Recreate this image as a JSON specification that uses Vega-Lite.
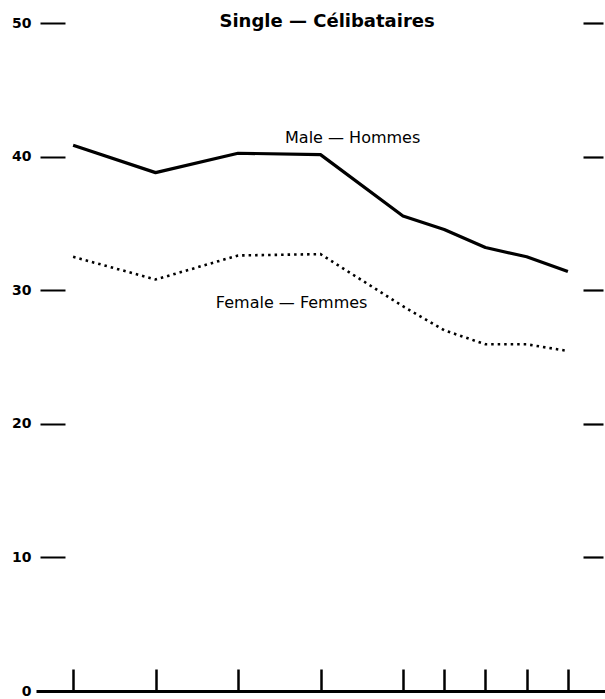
{
  "$schema": "https://vega.github.io/schema/vega-lite/v6.json",
  "width": 605,
  "height": 699,
  "autosize": "none",
  "padding": 0,
  "background": "white",
  "config": {"view": {"stroke": null}, "axis": {"grid": false}},
  "datasets": {
    "series": [
      {"sex": "Male", "year": 1921, "value": 40.85},
      {"sex": "Male", "year": 1931, "value": 38.8},
      {"sex": "Male", "year": 1941, "value": 40.25},
      {"sex": "Male", "year": 1951, "value": 40.15},
      {"sex": "Male", "year": 1961, "value": 35.55},
      {"sex": "Male", "year": 1966, "value": 34.55},
      {"sex": "Male", "year": 1971, "value": 33.2},
      {"sex": "Male", "year": 1976, "value": 32.5},
      {"sex": "Male", "year": 1981, "value": 31.4},
      {"sex": "Female", "year": 1921, "value": 32.5},
      {"sex": "Female", "year": 1931, "value": 30.8},
      {"sex": "Female", "year": 1941, "value": 32.6},
      {"sex": "Female", "year": 1951, "value": 32.7},
      {"sex": "Female", "year": 1961, "value": 28.8},
      {"sex": "Female", "year": 1966, "value": 27.0},
      {"sex": "Female", "year": 1971, "value": 25.95},
      {"sex": "Female", "year": 1976, "value": 25.95},
      {"sex": "Female", "year": 1981, "value": 25.45}
    ],
    "labels": [
      {"label": "Male — Hommes", "year": 1954.9, "value": 41.4},
      {"label": "Female — Femmes", "year": 1947.5, "value": 29.05}
    ],
    "title": [
      {"label": "Single — Célibataires", "year": 1951.8, "value": 50.1}
    ]
  },
  "layer": [
    {
      "data": {"name": "series"},
      "transform": [{"filter": "datum.sex === 'Male'"}],
      "mark": {"type": "line", "color": "black", "strokeWidth": 3.2, "strokeJoin": "round"},
      "encoding": {
        "x": {
          "field": "year", "type": "quantitative",
          "scale": {"domain": [1916.5, 1985.5], "range": [36, 605], "nice": false, "zero": false},
          "axis": {
            "orient": "bottom", "offset": -8,
            "values": [1921, 1931, 1941, 1951, 1961, 1966, 1971, 1976, 1981],
            "labels": false, "title": null,
            "tickSize": -22, "tickWidth": 2.5, "tickColor": "black",
            "domainColor": "black", "domainWidth": 3, "grid": false
          }
        },
        "y": {
          "field": "value", "type": "quantitative",
          "scale": {"domain": [0, 50], "range": [691, 23], "nice": false, "zero": false},
          "axis": {
            "orient": "left", "offset": -65,
            "values": [0, 10, 20, 30, 40, 50],
            "tickSize": 25, "tickWidth": 2, "tickColor": "black",
            "domain": false, "labelPadding": 9,
            "labelFont": "DejaVu Sans", "labelFontWeight": "bold", "labelFontSize": 14,
            "labelColor": "black", "title": null, "grid": false
          }
        }
      }
    },
    {
      "data": {"name": "series"},
      "transform": [{"filter": "datum.sex === 'Female'"}],
      "mark": {"type": "line", "color": "black", "strokeWidth": 2.6, "strokeDash": [2.5, 4]},
      "encoding": {
        "x": {"field": "year", "type": "quantitative", "axis": null},
        "y": {
          "field": "value", "type": "quantitative",
          "axis": {
            "orient": "right", "offset": -22,
            "values": [10, 20, 30, 40, 50],
            "tickSize": 20, "tickWidth": 2.2, "tickColor": "black",
            "domain": false, "labels": false, "title": null, "grid": false
          }
        }
      }
    },
    {
      "data": {"name": "labels"},
      "mark": {"type": "text", "font": "DejaVu Sans", "fontSize": 16, "color": "black", "align": "center", "baseline": "middle"},
      "encoding": {
        "x": {"field": "year", "type": "quantitative", "axis": null},
        "y": {"field": "value", "type": "quantitative", "axis": null},
        "text": {"field": "label"}
      }
    },
    {
      "data": {"name": "title"},
      "mark": {"type": "text", "font": "DejaVu Sans", "fontSize": 18, "fontWeight": "bold", "color": "black", "align": "center", "baseline": "middle"},
      "encoding": {
        "x": {"field": "year", "type": "quantitative", "axis": null},
        "y": {"field": "value", "type": "quantitative", "axis": null},
        "text": {"field": "label"}
      }
    }
  ],
  "resolve": {"axis": {"x": "independent", "y": "independent"}}
}
